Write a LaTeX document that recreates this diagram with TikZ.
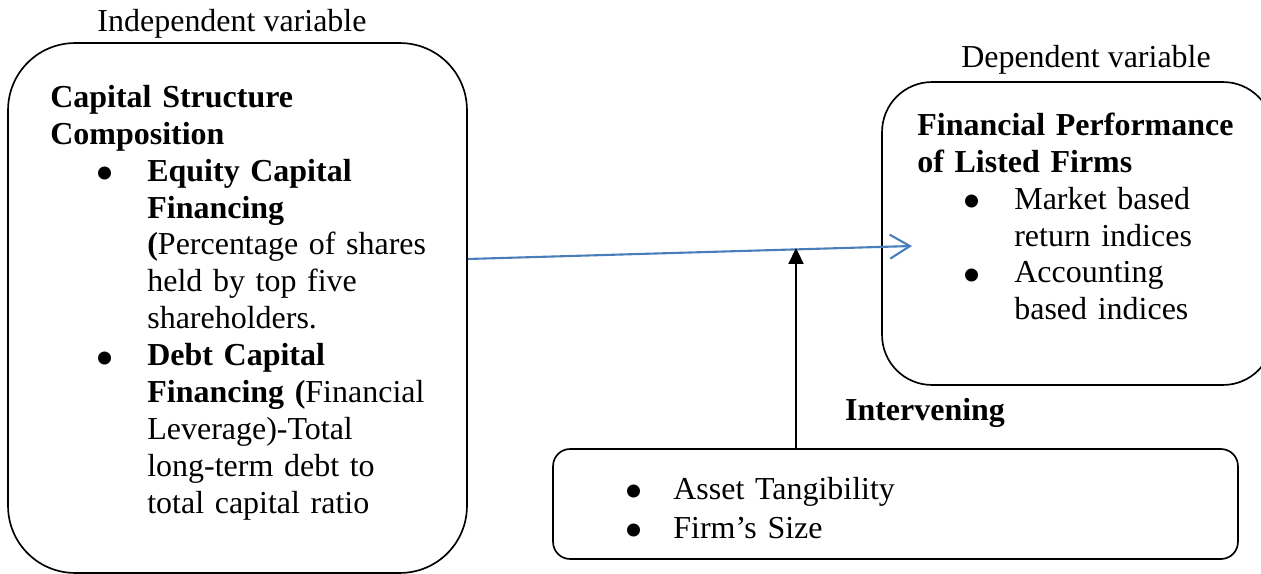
\documentclass[tikz,border=0pt]{standalone}
\usepackage{fontspec}
\setmainfont{Liberation Serif}
\usepackage{xcolor}
\usepackage{graphicx}
\usetikzlibrary{positioning,calc,arrows.meta}

\definecolor{linkblue}{RGB}{74,126,187}

\newcommand{\bigdot}{\smash{\raisebox{-0.33em}{\scalebox{1.7}{\textbullet}}}}
\newcommand{\bulone}{\hspace*{0.9cm}\makebox[1.04cm][l]{\bigdot}}
\newcommand{\indone}{\hspace*{1.94cm}}
\newcommand{\bultwo}{\hspace*{-0.08cm}\makebox[0.98cm][l]{\bigdot}}

\begin{document}
\begin{tikzpicture}[x=0.02cm, y=-0.02cm, font=\fontsize{18.2pt}{21pt}\selectfont,
    varbox/.style={draw, line width=0.95pt, inner sep=0pt},
    boxtext/.style={anchor=north west, inner sep=0pt, align=left, text width=#1},
    caption/.style={anchor=base, inner sep=0pt},
    effarrow/.style={draw=linkblue, line width=1.2pt, -{Straight Barb[length=0.4cm, width=0.48cm, line width=1.2pt]}},
    modarrow/.style={line width=1.3pt, -{Triangle[length=0.32cm, width=0.3cm]}}]
    \clip (0,0) rectangle (1261,574);

    % independent variable
    \node [varbox, rounded corners=1.34cm, minimum width=9.18cm, minimum height=10.6cm] (indep) at (237.5,308) {};
    \node [caption] (indeplabel) at (232,32) {Independent variable};
    \node [boxtext=8.4cm] (indeptext) at (50,81.2) {\strut\textbf{Capital Structure}\\
        \textbf{Composition}\\
        \bulone\textbf{Equity Capital}\\
        \indone\textbf{Financing}\\
        \indone\textbf{(}Percentage of shares\\
        \indone held by top five\\
        \indone shareholders.\\
        \bulone\textbf{Debt Capital}\\
        \indone\textbf{Financing (}Financial\\
        \indone Leverage)-Total\\
        \indone long-term debt to\\
        \indone total capital ratio};

    % dependent variable
    \node [varbox, rounded corners=1cm, minimum width=7.82cm, minimum height=6.06cm] (dep) at (1077.5,233.5) {};
    \node [caption] (deplabel) at (1086,68) {Dependent variable};
    \node [boxtext=7cm] (deptext) at (917,109.2) {\strut\textbf{Financial Performance}\\
        \textbf{of Listed Firms}\\
        \bulone Market based\\
        \indone return indices\\
        \bulone Accounting\\
        \indone based indices};

    % intervening variable
    \node [varbox, rounded corners=0.34cm, minimum width=13.7cm, minimum height=2.2cm] (inter) at (895.5,504) {};
    \node [caption, font=\fontsize{18.2pt}{21pt}\selectfont\bfseries] (interlabel) at (925,420) {Intervening};
    \node [boxtext=10cm, font=\fontsize{18.2pt}{22.2pt}\selectfont] (intertext) at (628,471.7) {\strut\bultwo Asset Tangibility\\
        \bultwo Firm's Size};

    % links
    \coordinate (effect) at (912,246);
    \coordinate (meet) at (796,248);
    \draw [effarrow] ($(indep.east)+(0,-49)$) -- (effect);
    \draw [modarrow] (inter.north -| meet) -- (meet);
\end{tikzpicture}
\end{document}
